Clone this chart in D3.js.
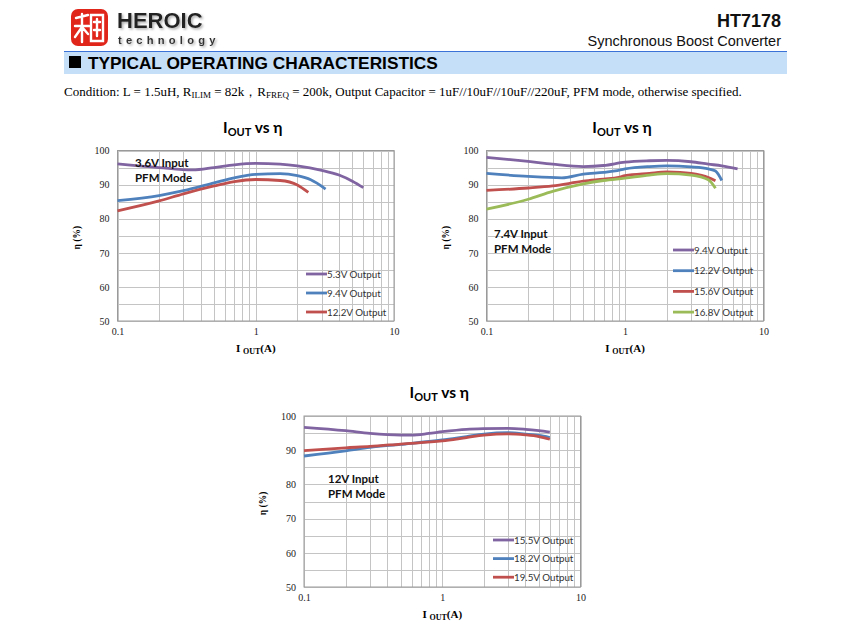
<!DOCTYPE html>
<html><head><meta charset="utf-8">
<script src="https://cdn.jsdelivr.net/npm/d3@7"></script>
<style>body{margin:0;background:#fff}svg{display:block}</style>
</head><body><svg id="c" width="850" height="627"></svg>
<script>
// ---------- data ----------
const chartTitle = "I|OUT| vs η";
const xTicks = [0.1, 1, 10];
const yTicks = [50, 60, 70, 80, 90, 100];

// Chart 1 : 3.6V input
const c1Note = ["3.6V Input", "PFM Mode"];
const c1Names = ["5.3V Output", "9.4V Output", "12.2V Output"];
const c1_53_x = [0.1, 0.2, 0.35, 0.5, 0.7, 1, 1.5, 2, 3, 4, 5, 6];
const c1_53_y = [96.1, 95.0, 94.3, 95.0, 95.8, 96.2, 96.0, 95.5, 94.2, 92.8, 91.0, 89.1];
const c1_94_x = [0.1, 0.2, 0.3, 0.5, 0.7, 1, 1.5, 2, 2.5, 3.2];
const c1_94_y = [85.3, 86.8, 88.2, 90.5, 92.0, 93.0, 93.2, 92.6, 91.4, 88.7];
const c1_122_x = [0.1, 0.2, 0.3, 0.5, 0.7, 1, 1.5, 2, 2.4];
const c1_122_y = [82.3, 85.2, 87.3, 89.6, 90.9, 91.5, 91.2, 89.9, 87.7];

// Chart 2 : 7.4V input
const c2Note = ["7.4V Input", "PFM Mode"];
const c2Names = ["9.4V Output", "12.2V Output", "15.6V Output", "16.8V Output"];
const c2_94_x = [0.1, 0.2, 0.3, 0.5, 0.7, 1, 1.5, 2, 3, 4, 5, 6.5];
const c2_94_y = [98.0, 96.8, 96.0, 95.3, 95.6, 96.6, 97.0, 97.1, 96.7, 96.0, 95.5, 94.6];
const c2_122_x = [0.1, 0.2, 0.35, 0.5, 0.7, 0.85, 1, 1.5, 2, 3, 4, 4.5, 5];
const c2_122_y = [93.3, 92.4, 92.0, 93.1, 93.6, 94.0, 94.6, 95.3, 95.5, 95.2, 94.6, 94.0, 91.2];
const c2_156_x = [0.1, 0.2, 0.3, 0.5, 0.7, 0.9, 1, 1.5, 2, 2.5, 3.5, 4, 4.5];
const c2_156_y = [88.3, 89.0, 89.6, 91.0, 91.6, 92.1, 92.6, 93.3, 93.7, 93.6, 92.8, 92.1, 91.1];
const c2_168_x = [0.1, 0.2, 0.3, 0.5, 0.7, 1, 1.5, 2, 3, 4, 4.5];
const c2_168_y = [82.8, 85.7, 88.0, 90.2, 91.2, 91.9, 92.8, 93.2, 92.8, 91.4, 88.9];

// Chart 3 : 12V input
const c3Note = ["12V Input", "PFM Mode"];
const c3Names = ["15.5V Output", "18.2V Output", "19.5V Output"];
const c3_155_x = [0.1, 0.2, 0.3, 0.5, 0.6, 0.8, 1, 1.5, 2, 3, 4, 5, 6];
const c3_155_y = [96.7, 95.7, 94.9, 94.4, 94.4, 94.9, 95.4, 96.1, 96.3, 96.4, 96.1, 95.7, 95.3];
const c3_182_x = [0.1, 0.2, 0.3, 0.5, 1, 1.5, 2, 3, 4, 5, 6];
const c3_182_y = [88.3, 89.8, 90.8, 91.7, 93.0, 94.0, 94.7, 95.1, 94.7, 94.3, 93.7];
const c3_195_x = [0.1, 0.2, 0.3, 0.5, 1, 1.5, 2, 3, 4, 5, 6];
const c3_195_y = [89.9, 90.7, 91.1, 91.8, 92.7, 93.7, 94.4, 94.8, 94.5, 94.0, 93.2];

const COL = {purple: "#8064A2", blue: "#4F81BD", red: "#C0504D", green: "#9BBB59"};

// ---------- page header ----------
const svg = d3.select("#c");
const sans = "Liberation Sans, Arial, sans-serif";
const serif = "Liberation Serif, Times New Roman, serif";
const cal = "Lato, 'Open Sans', sans-serif";

const defs = svg.append("defs");
defs.append("filter").attr("id", "sh").attr("x", "-10%").attr("y", "-30%").attr("width", "130%").attr("height", "180%")
  .append("feDropShadow").attr("dx", 1.5).attr("dy", 1.5).attr("stdDeviation", 0.8).attr("flood-color", "#999").attr("flood-opacity", 0.8);

// logo seal
const logo = svg.append("g");
logo.append("rect").attr("x", 71).attr("y", 9).attr("width", 37).attr("height", 37).attr("rx", 7)
  .attr("fill", "#E0251B");
const lp = d3.path();
lp.moveTo(76, 18); lp.lineTo(88, 15);
lp.moveTo(82, 14); lp.lineTo(82, 42);
lp.moveTo(75, 26); lp.lineTo(89, 26);
lp.moveTo(82, 27); lp.lineTo(75, 37);
lp.moveTo(82, 27); lp.lineTo(88, 34);
lp.moveTo(91, 15); lp.lineTo(103, 15); lp.lineTo(103, 41); lp.lineTo(91, 41); lp.closePath();
lp.moveTo(94, 22); lp.lineTo(100, 22);
lp.moveTo(97, 19); lp.lineTo(97, 36);
lp.moveTo(94, 30); lp.lineTo(100, 30);
logo.append("path").attr("d", lp.toString()).attr("fill", "none").attr("stroke", "#fff")
  .attr("stroke-width", 2.4).attr("stroke-linecap", "round");

svg.append("text").attr("x", 117).attr("y", 28).attr("font-family", sans).attr("font-weight", "bold")
  .attr("font-size", 22).attr("fill", "#222").attr("filter", "url(#sh)").text("HEROIC");
svg.append("text").attr("x", 118).attr("y", 43.5).attr("font-family", sans).attr("font-weight", "bold")
  .attr("font-size", 11.2).attr("letter-spacing", 4.2).attr("fill", "#333").attr("filter", "url(#sh)").text("technology");

svg.append("text").attr("x", 781).attr("y", 27).attr("text-anchor", "end").attr("font-family", sans)
  .attr("font-weight", "bold").attr("font-size", 18).attr("fill", "#111").text("HT7178");
svg.append("text").attr("x", 781).attr("y", 46).attr("text-anchor", "end").attr("font-family", sans)
  .attr("font-size", 14.5).attr("fill", "#111").text("Synchronous Boost Converter");

svg.append("rect").attr("x", 64).attr("y", 51).attr("width", 723).attr("height", 23).attr("fill", "#C6DFF8");
svg.append("line").attr("x1", 64).attr("x2", 787).attr("y1", 51.5).attr("y2", 51.5).attr("stroke", "#3A72D8").attr("stroke-width", 1.2);
svg.append("rect").attr("x", 69).attr("y", 56).attr("width", 12).attr("height", 12).attr("fill", "#000");
svg.append("text").attr("x", 88).attr("y", 69).attr("font-family", sans).attr("font-weight", "bold")
  .attr("font-size", 17.3).attr("fill", "#000").text("TYPICAL OPERATING CHARACTERISTICS");

const cond = svg.append("text").attr("x", 64).attr("y", 96).attr("font-family", serif).attr("font-size", 13).attr("fill", "#000");
[["Condition: L = 1.5uH, R", 0], ["ILIM", 1], [" = 82k，R", 0], ["FREQ", 1],
 [" = 200k, Output Capacitor = 1uF//10uF//10uF//220uF, PFM mode, otherwise specified.", 0]]
  .forEach(([t, s], i, arr) => {
    const ts = cond.append("tspan").text(t);
    if (s) { ts.attr("font-size", 9).attr("dy", 2); }
    else if (i > 0 && arr[i - 1][1]) { ts.attr("dy", -2); }
  });

// ---------- chart builder ----------
function chart(box, note, notePos, names, series, legendPos) {
  const g = svg.append("g");
  const x = d3.scaleLog().domain([0.1, 10]).range([box.l, box.r]);
  const y = d3.scaleLinear().domain([50, 100]).range([box.b, box.t]);

  const vlines = [];
  for (let d = 0.1; d < 10; d *= 10) for (let k = 1; k <= 10; k++) vlines.push(+(d * k).toPrecision(3));
  g.append("g").selectAll("line").data(vlines).join("line")
    .attr("x1", d => Math.round(x(d)) + 0.5).attr("x2", d => Math.round(x(d)) + 0.5)
    .attr("y1", box.t).attr("y2", box.b).attr("stroke", "#c4c4c4").attr("stroke-width", 1);
  const hlines = d3.range(50, 101, 5);
  g.append("g").selectAll("line").data(hlines).join("line")
    .attr("x1", box.l).attr("x2", box.r)
    .attr("y1", d => Math.round(y(d)) + 0.5).attr("y2", d => Math.round(y(d)) + 0.5)
    .attr("stroke", "#c4c4c4").attr("stroke-width", 1);
  g.append("rect").attr("x", box.l).attr("y", box.t).attr("width", box.r - box.l).attr("height", box.b - box.t)
    .attr("fill", "none").attr("stroke", "#9a9a9a").attr("stroke-width", 1);

  const xa = d3.axisBottom(x).tickValues(xTicks).tickFormat(d => String(d)).tickSize(0).tickPadding(7);
  g.append("g").attr("transform", `translate(0,${box.b})`).call(xa)
    .call(s => s.select(".domain").remove())
    .selectAll("text").attr("font-family", serif).attr("font-size", 10).attr("fill", "#222");
  const ya = d3.axisLeft(y).tickValues(yTicks).tickSize(0).tickPadding(8);
  g.append("g").attr("transform", `translate(${box.l},0)`).call(ya)
    .call(s => s.select(".domain").remove())
    .selectAll("text").attr("font-family", serif).attr("font-size", 10).attr("fill", "#222");

  const cx = (box.l + box.r) / 2;
  const parts = chartTitle.split("|");
  const tt = g.append("text").attr("x", cx - 3).attr("y", box.t - 18).attr("text-anchor", "middle")
    .attr("font-family", cal).attr("font-weight", "bold").attr("font-size", 15.5).attr("fill", "#000");
  tt.append("tspan").text(parts[0]);
  tt.append("tspan").text(parts[1]).attr("font-size", 11).attr("dy", 3);
  tt.append("tspan").text(parts[2]).attr("dy", -3);

  const xl = g.append("text").attr("x", cx).attr("y", box.b + 31).attr("text-anchor", "middle")
    .attr("font-family", serif).attr("font-weight", "bold").attr("font-size", 11).attr("fill", "#000");
  xl.append("tspan").text("I ");
  xl.append("tspan").text("OUT").attr("font-size", 8).attr("dy", 2);
  xl.append("tspan").text("(A)").attr("dy", -2);

  g.append("text").attr("transform", `translate(${box.l - 38},${(box.t + box.b) / 2 + 2}) rotate(-90)`)
    .attr("text-anchor", "middle").attr("font-family", serif).attr("font-weight", "bold")
    .attr("font-size", 9.5).attr("fill", "#000").text("η (%)");

  const line = d3.line().x(d => x(d[0])).y(d => y(d[1])).curve(d3.curveMonotoneX);
  series.forEach(s => {
    const pts = d3.zip(s.x, s.y);
    g.append("path").attr("d", line(pts)).attr("fill", "none").attr("stroke", s.c)
      .attr("stroke-width", 2.8).attr("stroke-linecap", "butt");
  });

  note.forEach((t, i) => {
    g.append("text").attr("x", notePos[0]).attr("y", notePos[1] + i * 15)
      .attr("font-family", cal).attr("font-weight", "bold").attr("font-size", 11.5).attr("fill", "#111").text(t);
  });

  names.forEach((n, i) => {
    const ly = legendPos[1] + i * legendPos[2];
    g.append("line").attr("x1", legendPos[0]).attr("x2", legendPos[0] + 21).attr("y1", ly).attr("y2", ly)
      .attr("stroke", series[i].c).attr("stroke-width", 2.8);
    g.append("text").attr("x", legendPos[0] + 21).attr("y", ly + 3.5)
      .attr("font-family", cal).attr("font-size", 9.8).attr("fill", "#333").text(n);
  });
}

chart({l: 117.5, r: 394, t: 150.5, b: 321}, c1Note, [135, 167], c1Names, [
  {x: c1_53_x, y: c1_53_y, c: COL.purple},
  {x: c1_94_x, y: c1_94_y, c: COL.blue},
  {x: c1_122_x, y: c1_122_y, c: COL.red}
], [306, 274, 19]);

chart({l: 486.5, r: 763.5, t: 150.5, b: 321}, c2Note, [494, 238], c2Names, [
  {x: c2_94_x, y: c2_94_y, c: COL.purple},
  {x: c2_122_x, y: c2_122_y, c: COL.blue},
  {x: c2_156_x, y: c2_156_y, c: COL.red},
  {x: c2_168_x, y: c2_168_y, c: COL.green}
], [673, 250, 20.7]);

chart({l: 304, r: 580.5, t: 416, b: 587}, c3Note, [328, 483], c3Names, [
  {x: c3_155_x, y: c3_155_y, c: COL.purple},
  {x: c3_182_x, y: c3_182_y, c: COL.blue},
  {x: c3_195_x, y: c3_195_y, c: COL.red}
], [493, 540, 18.6]);
</script></body></html>
